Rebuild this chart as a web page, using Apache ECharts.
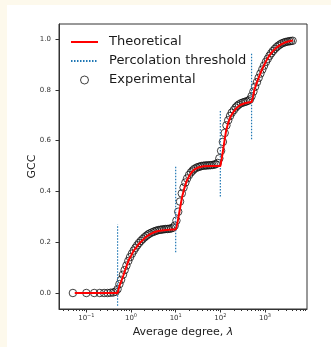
<!DOCTYPE html>
<html>
<head>
<meta charset="utf-8">
<script src="https://cdn.jsdelivr.net/npm/echarts@6/dist/echarts.min.js"></script>
<style>
  html, body { margin: 0; padding: 0; background: #fdf9ec; }
  #chart { width: 331px; height: 347px; }
</style>
</head>
<body>
<div id="chart"></div>
<script>
// theoretical curve
const thLambda = [0.055, 0.5, 0.55, 0.61, 0.67, 0.79, 0.9, 1.0, 1.15, 1.33, 1.5, 1.72,
  2.0, 2.3, 2.7, 3.1, 3.7, 4.4, 5.5, 7.0, 8.5, 10, 10.5, 11.2, 12, 13, 14, 15.5, 17.5, 20,
  23, 27, 33, 42, 60, 100, 105, 110, 117, 124, 135, 150, 170, 195, 230, 280, 350, 420, 500,
  540, 580, 640, 700, 800, 900, 1050, 1250, 1500, 1800, 2200, 2700, 3300, 4200];
const thGCC = [0, 0, 0.028, 0.048, 0.068, 0.105, 0.132, 0.146, 0.167, 0.181, 0.193, 0.204,
  0.215, 0.224, 0.232, 0.237, 0.242, 0.245, 0.247, 0.249, 0.25, 0.25, 0.262, 0.285, 0.315, 0.35, 0.38, 0.41, 0.44, 0.46,
  0.476, 0.488, 0.495, 0.499, 0.5, 0.5, 0.52, 0.54, 0.57, 0.60, 0.64, 0.67, 0.695, 0.712, 0.728, 0.74, 0.747, 0.75, 0.752,
  0.775, 0.80, 0.823, 0.842, 0.868, 0.888, 0.912, 0.935, 0.952, 0.966, 0.977, 0.985, 0.99, 0.994];

// experimental points
const expLambda = [0.05, 0.1, 0.15, 0.2, 0.25, 0.3, 0.35, 0.4, 0.45, 0.5,
  0.55, 0.6, 0.66, 0.72, 0.79, 0.87, 0.95, 1.05, 1.15, 1.26,
  1.38, 1.51, 1.66, 1.82, 2.0, 2.2, 2.4, 2.6, 2.9, 3.2,
  3.5, 3.8, 4.2, 4.6, 5.0, 5.5, 6.0, 6.6, 7.2, 7.9,
  8.7, 9.5, 10.4, 11.4, 12.5, 13.7, 15, 16.5, 18, 20,
  22, 24, 26, 29, 32, 35, 38, 42, 46, 50,
  55, 60, 66, 72, 79, 87, 95, 104, 114, 125,
  137, 150, 165, 180, 200, 220, 240, 260, 290, 320,
  350, 380, 420, 460, 500, 550, 600, 660, 720, 790,
  870, 950, 1050, 1150, 1260, 1380, 1510, 1660, 1820, 2000,
  2200, 2400, 2650, 2900, 3200, 3500, 3800, 4150];
const expGCC = [0, 0, 0, 0, 0, 0, 0.001, 0.002, 0.005, 0.015,
  0.035, 0.052, 0.072, 0.09, 0.108, 0.126, 0.141, 0.155, 0.167, 0.178,
  0.188, 0.197, 0.205, 0.212, 0.219, 0.225, 0.23, 0.234, 0.238, 0.241,
  0.244, 0.246, 0.248, 0.249, 0.25, 0.251, 0.252, 0.252, 0.253, 0.254,
  0.257, 0.265, 0.285, 0.32, 0.36, 0.392, 0.415, 0.435, 0.451, 0.465,
  0.475, 0.482, 0.488, 0.493, 0.496, 0.498, 0.5, 0.501, 0.502, 0.502,
  0.503, 0.503, 0.504, 0.505, 0.507, 0.512, 0.53, 0.56, 0.595, 0.63,
  0.66, 0.68, 0.697, 0.71, 0.72, 0.73, 0.737, 0.742, 0.747, 0.75,
  0.752, 0.754, 0.757, 0.762, 0.775, 0.793, 0.812, 0.83, 0.847, 0.864,
  0.88, 0.895, 0.91, 0.922, 0.934, 0.944, 0.953, 0.961, 0.968, 0.974,
  0.979, 0.983, 0.986, 0.988, 0.99, 0.991, 0.992, 0.993];

// percolation thresholds and the vertical extent of their dotted markers
const thresholds = [0.5, 10, 100, 500];
const thresholdLow = [-0.05, 0.16, 0.38, 0.605];
const thresholdHigh = [0.27, 0.5, 0.72, 0.945];

const yTicks = [0, 0.2, 0.4, 0.6, 0.8, 1.0];
const xMajorTicks = [0.1, 1, 10, 100, 1000];
const xMinorTicks = [0.03, 0.04, 0.05, 0.06, 0.07, 0.08, 0.09,
  0.2, 0.3, 0.4, 0.5, 0.6, 0.7, 0.8, 0.9,
  2, 3, 4, 5, 6, 7, 8, 9,
  20, 30, 40, 50, 60, 70, 80, 90,
  200, 300, 400, 500, 600, 700, 800, 900,
  2000, 3000, 4000, 5000, 6000, 7000, 8000];

const X_MIN = 0.02443, X_MAX = 8710;
const Y_MIN = -0.063, Y_MAX = 1.059;
const AXIS = '#333';
const HIDDEN = { opacity: 0 };

const zip = (a, b) => a.map((v, i) => [v, b[i]]);

const thresholdSeries = thresholds.map((t, i) => ({
  name: 'Percolation threshold',
  type: 'line',
  symbol: 'none',
  z: 3,
  itemStyle: { color: '#1f77b4' },
  lineStyle: { color: '#1f77b4', width: 1.2, type: [1.5, 1.5] },
  data: [[t, thresholdLow[i]], [t, thresholdHigh[i]]],
}));

function powLabel(v) {
  const e = Math.round(Math.log10(v));
  return '{b|10}{e|' + String(e).replace('-', '\u2212') + '}';
}

const chart = echarts.init(document.getElementById('chart'), null, { renderer: 'canvas' });
chart.setOption({
  animation: false,
  backgroundColor: 'transparent',
  textStyle: { fontFamily: 'DejaVu Sans' },
  graphic: [{
    type: 'rect', left: 7, top: 5, z: -10, silent: true,
    shape: { width: 324, height: 342 },
    style: { fill: '#ffffff' },
  }],
  grid: {
    left: 59, top: 24, right: 24, bottom: 38,
    show: true, borderColor: AXIS, borderWidth: 1, backgroundColor: 'transparent',
  },
  legend: {
    left: 70, top: 35, orient: 'vertical', padding: 0,
    itemWidth: 27, itemHeight: 8, itemGap: 5,
    textStyle: { fontSize: 13, color: '#1a1a1a', lineHeight: 14, padding: [0, 0, 0, 6] },
    data: [
      { name: 'Theoretical', itemStyle: HIDDEN },
      { name: 'Percolation threshold', itemStyle: HIDDEN },
      {
        name: 'Experimental', icon: 'circle',
        itemStyle: { color: 'rgba(0,0,0,0)', borderColor: '#111', borderWidth: 1 },
      },
    ],
  },
  xAxis: [{
    type: 'log', logBase: 10, min: X_MIN, max: X_MAX,
    name: '{n|Average degree, }{i|\u03bb}',
    nameLocation: 'middle', nameGap: 18, nameMoveOverlap: false,
    nameTextStyle: {
      rich: {
        n: { fontSize: 11, color: '#222', fontFamily: 'DejaVu Sans' },
        i: { fontSize: 11, color: '#222', fontStyle: 'italic', fontFamily: 'DejaVu Sans' },
      },
    },
    axisLine: { show: true, onZero: false, lineStyle: { color: AXIS } },
    axisTick: { show: true, length: 3.5, customValues: xMajorTicks, lineStyle: { color: AXIS } },
    axisLabel: {
      customValues: xMajorTicks, margin: 4, formatter: powLabel,
      rich: {
        b: { fontSize: 7, color: '#333' },
        e: { fontSize: 5, color: '#333', padding: [0, 0, 5, 0] },
      },
    },
    splitLine: { show: false },
  }, {
    type: 'log', logBase: 10, min: X_MIN, max: X_MAX, position: 'bottom',
    axisLine: { show: false, onZero: false },
    axisTick: { show: true, length: 2, customValues: xMinorTicks, lineStyle: { color: AXIS } },
    axisLabel: { show: false },
    splitLine: { show: false },
  }],
  yAxis: {
    type: 'value', min: Y_MIN, max: Y_MAX,
    name: 'GCC', nameLocation: 'middle', nameGap: 21, nameMoveOverlap: false,
    nameTextStyle: { fontSize: 11, color: '#222' },
    axisLine: { show: true, onZero: false, lineStyle: { color: AXIS } },
    axisTick: { show: true, length: 3.5, customValues: yTicks, lineStyle: { color: AXIS } },
    axisLabel: {
      customValues: yTicks, margin: 8, fontSize: 7, color: '#333',
      formatter: v => v.toFixed(1),
    },
    splitLine: { show: false },
  },
  series: [
    {
      name: 'Experimental',
      type: 'scatter',
      symbol: 'circle',
      symbolSize: 7.5,
      z: 2,
      itemStyle: { color: 'rgba(0,0,0,0)', borderColor: '#111', borderWidth: 1 },
      data: zip(expLambda, expGCC),
    },
    ...thresholdSeries,
    {
      name: 'Theoretical',
      type: 'line',
      symbol: 'none',
      z: 4,
      itemStyle: { color: '#ff0000' },
      lineStyle: { color: '#ff0000', width: 2 },
      data: zip(thLambda, thGCC),
    },
  ],
});
</script>
</body>
</html>
